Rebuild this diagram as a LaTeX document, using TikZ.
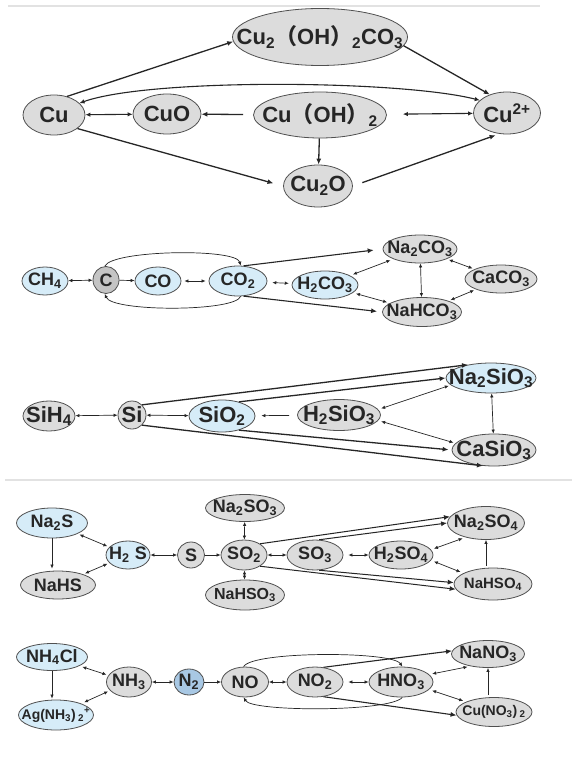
\documentclass[tikz,border=0pt]{standalone}
\usepackage{fontspec}
\setmainfont{Liberation Sans}
\newfontfamily\cjk{Noto Sans CJK SC}
\usetikzlibrary{positioning,arrows.meta,shapes.geometric}
\definecolor{ink}{HTML}{262626}
\definecolor{rim}{HTML}{505050}
\definecolor{grayfill}{HTML}{DCDCDC}
\definecolor{darkfill}{HTML}{C4C4C4}
\definecolor{bluefill}{HTML}{D6ECF8}
\definecolor{deepblue}{HTML}{A8C8E4}
\definecolor{rulecol}{HTML}{E2E2E2}
\newcommand{\sbs}[1]{\textsubscript{#1}}
\newcommand{\sps}[1]{\textsuperscript{#1}}
\newcommand{\lpar}{{\cjk （}}
\newcommand{\rpar}{{\cjk ）}}
\tikzset{
  chem/.style 2 args={ellipse, draw=rim, line width=0.8pt, inner sep=-30pt,
    minimum width=#1, minimum height=#2, text=ink},
  gy/.style={fill=grayfill},
  bu/.style={fill=bluefill},
  f22/.style={font=\fontsize{22pt}{26pt}\selectfont\bfseries},
  f16/.style={font=\fontsize{16pt}{19pt}\selectfont\bfseries},
  f15/.style={font=\fontsize{15pt}{18pt}\selectfont\bfseries},
  f14/.style={font=\fontsize{14pt}{17pt}\selectfont\bfseries},
  hv/.style={-{Latex[length=6pt,width=5pt]}, line width=1.3pt, color=ink},
  dhv/.style={{Latex[length=5pt,width=4.5pt]}-{Latex[length=5pt,width=4.5pt]}, line width=1.1pt, color=ink},
  ln/.style={-{Latex[length=4pt,width=3.5pt]}, line width=0.7pt, color=ink},
  dln/.style={{Latex[length=4pt,width=3.5pt]}-{Latex[length=4pt,width=3.5pt]}, line width=0.7pt, color=ink},
  sep/.style={draw=rulecol, line width=1.2pt},
}

\begin{document}
\begin{tikzpicture}[x=1pt, y=-1pt, font=\fontsize{18pt}{21pt}\selectfont\bfseries]
  \useasboundingbox (0,0) rectangle (585,759);
  \fill[white] (0,0) rectangle (585,759);
  \draw[sep] (8,6) -- (540,6);
  \draw[sep] (5,480) -- (572,480);

  % Cu
  \node[chem={175pt}{57pt}, gy, f22] (mal) at (320,37) {Cu\sbs{2}\lpar OH\rpar\sbs{2}CO\sbs{3}};
  \node[chem={62pt}{40pt}, gy, f22] (cu) at (54,115) {Cu};
  \node[chem={68pt}{40pt}, gy, f22] (cuo) at (167,114) {CuO};
  \node[chem={133pt}{46pt}, gy, f22] (cuoh) at (320,115) {Cu\lpar OH\rpar\sbs{2}};
  \node[chem={67pt}{42pt}, gy, f22] (cut) at (507,113) {Cu\sps{2+}};
  \node[chem={69pt}{42pt}, gy, f22] (cutwo) at (318,186) {Cu\sbs{2}O};
  \draw[hv] (cu.55) -- (mal.183);
  \draw[hv] (mal.-6) -- (cut.133);
  \draw[dhv] (cu.25) .. controls (150,78) and (400,80) .. (cut.155);
  \draw[dhv] (cu) -- (cuo);
  \draw[hv, shorten <=10pt] (cuoh) -- (cuo);
  \draw[dhv, shorten <=16pt] (cuoh) -- (cut);
  \draw[hv] (cuoh) -- (cutwo);
  \draw[hv, shorten >=10pt] (cu.-30) -- (cutwo.180);
  \draw[hv, shorten <=10pt, shorten >=4pt] (cutwo.0) -- (cut.250);

  % C
  \node[chem={46pt}{28pt}, bu] (ch4) at (45,281) {CH\sbs{4}};
  \node[chem={26pt}{27pt}, fill=darkfill] (c) at (106,280) {C};
  \node[chem={46pt}{28pt}, bu] (co) at (158,281) {CO};
  \node[chem={58pt}{30pt}, bu] (co2) at (238,281) {CO\sbs{2}};
  \node[chem={66pt}{28pt}, bu] (h2co3) at (325,285) {H\sbs{2}CO\sbs{3}};
  \node[chem={74pt}{28pt}, gy] (na2co3) at (420,249) {Na\sbs{2}CO\sbs{3}};
  \node[chem={72pt}{28pt}, gy] (caco3) at (501,279) {CaCO\sbs{3}};
  \node[chem={79pt}{29pt}, gy] (nahco3) at (422,312) {NaHCO\sbs{3}};
  \draw[dln] (ch4) -- (c);
  \draw[ln] (c) -- (co);
  \draw[dln, shorten <=3pt, shorten >=3pt] (co) -- (co2);
  \draw[dln, shorten <=5pt, shorten >=3pt] (co2) -- (h2co3);
  \draw[ln] (c.95) .. controls (112,250) and (236,248) .. (co2.80);
  \draw[ln] (co2.-80) .. controls (235,312) and (112,312) .. (c.-95);
  \draw[hv, line width=1.1pt, shorten >=9pt] (co2.70) -- (na2co3.west);
  \draw[hv, line width=1.1pt, shorten >=5pt] (co2.-70) -- (nahco3.west);
  \draw[dln, shorten <=3pt, shorten >=3pt] (h2co3) -- (na2co3);
  \draw[dln, shorten <=3pt, shorten >=3pt] (h2co3) -- (nahco3);
  \draw[dln] (na2co3) -- (nahco3);
  \draw[dln, shorten <=2pt, shorten >=2pt] (na2co3) -- (caco3);
  \draw[dln, shorten <=2pt, shorten >=2pt] (nahco3) -- (caco3);

  % Si
  \node[chem={52pt}{30pt}, gy, f22] (sih4) at (49,416) {SiH\sbs{4}};
  \node[chem={28pt}{28pt}, gy, f22] (si) at (132,415) {Si};
  \node[chem={66pt}{32pt}, bu, f22] (sio2) at (222,416) {SiO\sbs{2}};
  \node[chem={83pt}{31pt}, gy, f22] (h2sio3) at (339,415) {H\sbs{2}SiO\sbs{3}};
  \node[chem={90pt}{30pt}, bu, f22] (na2sio3) at (491,378) {Na\sbs{2}SiO\sbs{3}};
  \node[chem={84pt}{32pt}, gy, f22] (casio3) at (494,450) {CaSiO\sbs{3}};
  \draw[dln] (sih4) -- (si);
  \draw[dln] (si) -- (sio2);
  \draw[ln, shorten <=8pt, shorten >=6pt] (h2sio3) -- (sio2);
  \draw[hv] (si.45) -- (na2sio3.150);
  \draw[hv] (sio2.40) -- (na2sio3.180);
  \draw[hv] (si.-45) -- (casio3.235);
  \draw[hv, shorten >=3pt] (sio2.-40) -- (casio3.180);
  \draw[dln, shorten <=3pt, shorten >=2pt] (h2sio3.8) -- (na2sio3.190);
  \draw[dln, shorten <=3pt, shorten >=2pt] (h2sio3.-8) -- (casio3.170);
  \draw[dln] (na2sio3) -- (casio3);

  % S
  \node[chem={71pt}{30pt}, bu] (na2s) at (52,523) {Na\sbs{2}S};
  \node[chem={75pt}{28pt}, gy] (nahs) at (58,585) {NaHS};
  \node[chem={44pt}{28pt}, bu] (h2s) at (128,555) {H\sbs{2} S};
  \node[chem={27pt}{26pt}, gy] (s) at (191,555) {S};
  \node[chem={46pt}{30pt}, gy] (so2) at (244,555) {SO\sbs{2}};
  \node[chem={79pt}{27pt}, gy] (na2so3) at (245,508) {Na\sbs{2}SO\sbs{3}};
  \node[chem={79pt}{30pt}, gy, f16] (nahso3) at (245,595) {NaHSO\sbs{3}};
  \node[chem={56pt}{30pt}, gy] (so3) at (315,555) {SO\sbs{3}};
  \node[chem={64pt}{28pt}, gy] (h2so4) at (401,555) {H\sbs{2}SO\sbs{4}};
  \node[chem={77pt}{33pt}, gy] (na2so4) at (486,523) {Na\sbs{2}SO\sbs{4}};
  \node[chem={78pt}{32pt}, gy, f15] (nahso4) at (493,584) {NaHSO\sbs{4}};
  \draw[ln, shorten >=2pt] (na2s.south) -- (na2s.south |- nahs.north);
  \draw[dln, shorten <=2pt, shorten >=2pt] (na2s) -- (h2s);
  \draw[dln, shorten <=2pt, shorten >=2pt] (nahs) -- (h2s);
  \draw[dln] (h2s) -- (s);
  \draw[ln] (s) -- (so2);
  \draw[dln] (so2) -- (so3);
  \draw[dln, shorten <=5pt] (so3) -- (h2so4);
  \draw[dln] (na2so3) -- (so2);
  \draw[dln] (so2) -- (nahso3);
  \draw[hv, line width=1pt] (so2.35) -- (na2so4.170);
  \draw[hv, line width=1pt] (so3.75) -- (na2so4.180);
  \draw[hv, line width=1pt] (so2.-35) -- (nahso4.188);
  \draw[hv, line width=1pt] (so3.-75) -- (nahso4.178);
  \draw[dln, shorten <=3pt, shorten >=3pt] (h2so4.10) -- (na2so4.215);
  \draw[dln, shorten <=3pt, shorten >=3pt] (h2so4.-10) -- (nahso4.160);
  \draw[ln, shorten <=2pt] (na2so4.south |- nahso4.north) -- (na2so4.south);

  % N
  \node[chem={71pt}{27pt}, bu] (nh4cl) at (52,657) {NH\sbs{4}Cl};
  \node[chem={75pt}{30pt}, bu, f14] (agnh) at (56,715) {Ag(NH\sbs{3})\,\sbs{2}\sps{+}};
  \node[chem={45pt}{30pt}, gy] (nh3) at (129,682) {NH\sbs{3}};
  \node[chem={30pt}{26pt}, fill=deepblue] (n2) at (189,682) {N\sbs{2}};
  \node[chem={47pt}{30pt}, gy] (no) at (245,682) {NO};
  \node[chem={56pt}{30pt}, gy] (no2) at (315,682) {NO\sbs{2}};
  \node[chem={64pt}{30pt}, gy] (hno3) at (401,682) {HNO\sbs{3}};
  \node[chem={73pt}{27pt}, gy] (nano3) at (488,654) {NaNO\sbs{3}};
  \node[chem={76pt}{29pt}, gy, f14] (cuno3) at (494,712) {Cu(NO\sbs{3})\,\sbs{2}};
  \draw[ln, shorten >=1pt] (nh4cl.south) -- (nh4cl.south |- agnh.north);
  \draw[dln, shorten <=3pt, shorten >=2pt] (nh4cl) -- (nh3);
  \draw[dln, shorten <=3pt, shorten >=2pt] (agnh) -- (nh3);
  \draw[dln] (nh3) -- (n2);
  \draw[ln] (n2) -- (no);
  \draw[dln] (no) -- (no2);
  \draw[dln, shorten <=5pt] (no2) -- (hno3);
  \draw[ln] (no.95) .. controls (252,651) and (392,651) .. (hno3.85);
  \draw[ln] (hno3.-85) .. controls (390,712) and (252,712) .. (no.-95);
  \draw[hv, line width=1.1pt] (no2.60) -- (nano3.175);
  \draw[hv, line width=1.1pt] (no2.-60) -- (cuno3.185);
  \draw[dln, shorten <=3pt, shorten >=3pt] (hno3.15) -- (nano3.215);
  \draw[dln, shorten <=3pt, shorten >=3pt] (hno3.-15) -- (cuno3.160);
  \draw[ln, shorten <=2pt] (nano3.south |- cuno3.north) -- (nano3.south);
\end{tikzpicture}
\end{document}
